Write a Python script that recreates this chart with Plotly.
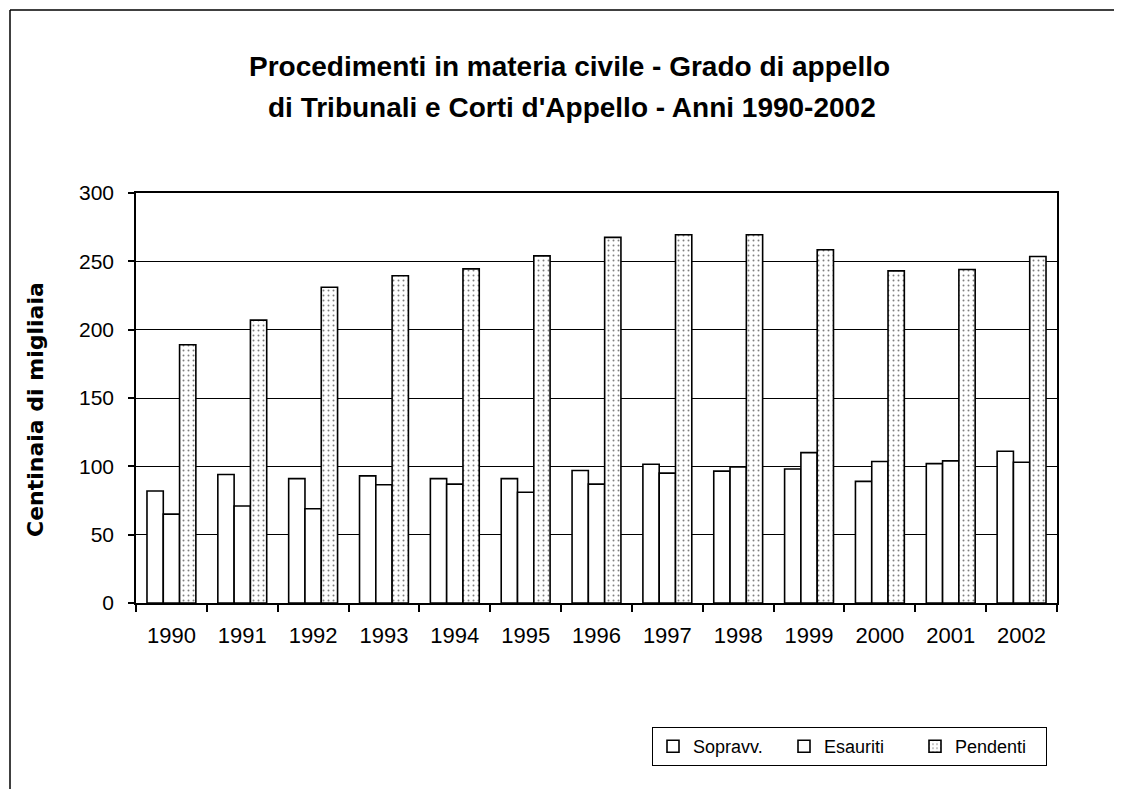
import plotly.graph_objects as go

anni = ["1990", "1991", "1992", "1993", "1994", "1995", "1996",
        "1997", "1998", "1999", "2000", "2001", "2002"]
sopravv = [82, 94, 91, 93, 91, 91, 97, 101.5, 96.5, 98, 89, 102, 111]
esauriti = [65, 71, 69, 86.5, 87, 81, 87, 95, 99.5, 110, 103.5, 104, 103]
pendenti = [189, 207, 231, 239.5, 244.5, 254, 267.5, 269.5, 269.5, 258.5, 243, 244, 253.5]
y_ticks = [0, 50, 100, 150, 200, 250, 300]

FONT = "Liberation Sans, Arial, sans-serif"
OFF = 8  # page body margin
# plot area in reference pixel coordinates
L, R, T, B = 136, 1057, 193, 603
W, H = 1122 - OFF, 789 - OFF

def px_x(px):
    return (px - L) / (R - L)

def px_y(py):
    return (B - py) / (B - T)

fig = go.Figure()
line = dict(color="black", width=1.6)
fig.add_trace(go.Bar(x=anni, y=sopravv, name="Sopravv.",
                     marker=dict(color="white", line=line)))
fig.add_trace(go.Bar(x=anni, y=esauriti, name="Esauriti",
                     marker=dict(color="white", line=line)))
fig.add_trace(go.Bar(x=anni, y=pendenti, name="Pendenti",
                     marker=dict(color="white", line=line,
                                 pattern=dict(shape=".", fgcolor="black", bgcolor="white",
                                              size=5, solidity=0.12))))

fig.update_layout(
    width=W, height=H,
    margin=dict(l=L - OFF, r=1122 - R, t=T - OFF, b=789 - B, pad=0),
    paper_bgcolor="white", plot_bgcolor="white",
    barmode="group", bargap=0.31, bargroupgap=0,
    font=dict(family=FONT, size=16, color="black"),
    showlegend=True,
    legend=dict(orientation="h", x=px_x(652), y=px_y(727), xanchor="left", yanchor="top",
                bordercolor="black", borderwidth=1, bgcolor="white",
                font=dict(family=FONT, size=18, color="black"),
                itemwidth=30, entrywidth=86, tracegroupgap=0),
    xaxis=dict(type="category", showline=True, linecolor="black", linewidth=1.6,
               mirror=True, ticks="outside", tickson="boundaries", ticklen=7,
               tickcolor="black", tickwidth=1.5, showgrid=False,
               ticklabelstandoff=12, tickfont=dict(size=22)),
    yaxis=dict(range=[0, 300], tickvals=y_ticks, showline=True, linecolor="black",
               linewidth=1.6, mirror=True, ticks="outside", ticklen=6,
               tickcolor="black", tickwidth=1.5, showgrid=True, gridcolor="black",
               gridwidth=1.2, zeroline=False, ticklabelstandoff=10,
               tickfont=dict(size=21)),
)

fig.add_annotation(text="<b>Procedimenti in materia civile - Grado di appello</b>",
                   xref="paper", yref="paper", x=px_x(569), y=px_y(67),
                   showarrow=False, font=dict(size=28, family=FONT),
                   xanchor="center", yanchor="middle")
fig.add_annotation(text="<b>di Tribunali e Corti d'Appello - Anni 1990-2002</b>",
                   xref="paper", yref="paper", x=px_x(572), y=px_y(107),
                   showarrow=False, font=dict(size=28, family=FONT),
                   xanchor="center", yanchor="middle")
fig.add_annotation(text="<b>Centinaia di migliaia</b>", textangle=-90,
                   xref="paper", yref="paper", x=px_x(35), y=px_y(410),
                   showarrow=False, font=dict(size=22, family="DejaVu Sans, sans-serif"),
                   xanchor="center", yanchor="middle")

# outer frame (top and left edges)
fig.add_shape(type="line", xref="paper", yref="paper", x0=px_x(10), x1=px_x(1122),
              y0=px_y(10), y1=px_y(10), line=dict(color="black", width=1.5))
fig.add_shape(type="line", xref="paper", yref="paper", x0=px_x(10), x1=px_x(10),
              y0=px_y(10), y1=px_y(789), line=dict(color="black", width=1.5))

fig.write_html("out.html")
